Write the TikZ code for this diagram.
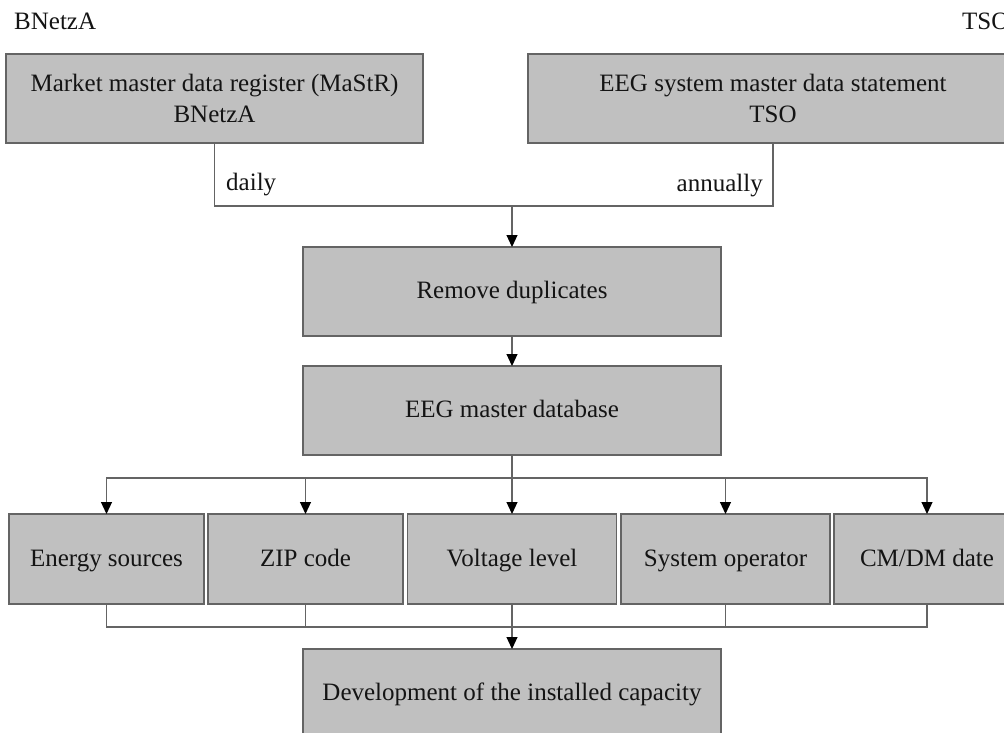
\documentclass[tikz,border=0pt]{standalone}
\usepackage{fontspec}
\setmainfont{Liberation Serif}
\usetikzlibrary{arrows.meta}

\definecolor{boxfill}{RGB}{192,192,192}
\definecolor{edge}{RGB}{100,100,100}
\definecolor{ink}{RGB}{20,20,20}

\tikzset{
  block/.style={draw=edge, fill=boxfill, line width=1.2pt, rectangle,
    inner sep=0pt, outer sep=0pt, align=center, text=ink,
    font=\fontsize{25}{31}\selectfont},
  oneline/.style={block, text height=18pt, text depth=4pt},
  wire/.style={draw=edge, line width=1.2pt},
  flow/.style={wire, -{Triangle[width=11pt,length=12pt,color=black,fill=black]}},
  note/.style={inner sep=0pt, text=ink, font=\fontsize{25}{30}\selectfont}
}

\begin{document}
\begin{tikzpicture}[x=1pt, y=-1pt]
  \useasboundingbox (0,0) rectangle (1004,733);

  % corner captions
  \node[note, anchor=base west] (capL) at (14,30) {BNetzA};
  \node[note, anchor=base west] (capR) at (962,30) {TSO};

  % sources
  \node[block, minimum width=417pt, minimum height=89pt] (mastr) at (214.5,98.5)
    {Market master data register (MaStR)\\BNetzA};
  \node[block, minimum width=490pt, minimum height=89pt] (eeg) at (773,98.5)
    {EEG system master data statement\\TSO};

  % processing chain
  \node[oneline, minimum width=418pt, minimum height=89pt] (dedup) at (512,291.5)
    {Remove duplicates};
  \node[oneline, minimum width=418pt, minimum height=89pt] (master) at (512,410.5)
    {EEG master database};

  % evaluation dimensions
  \node[oneline, minimum width=195pt, minimum height=90pt] (src)  at (106.5,559) {Energy sources};
  \node[oneline, minimum width=195pt, minimum height=90pt] (zip)  at (305.5,559) {ZIP code};
  \node[oneline, minimum width=209pt, minimum height=90pt] (volt) at (512,559)   {Voltage level};
  \node[oneline, minimum width=209pt, minimum height=90pt] (op)   at (725.5,559) {System operator};
  \node[oneline, minimum width=186pt, minimum height=90pt] (date) at (927,559)   {CM/DM date};

  % result
  \node[oneline, minimum width=418pt, minimum height=89pt] (dev) at (512,693.5)
    {Development of the installed capacity};

  % junction points
  \coordinate (merge)   at (512,206);
  \coordinate (split)   at (512,478);
  \coordinate (collect) at (512,627);

  % sources into the chain
  \draw[wire] (mastr.south) |- (merge);
  \draw[wire] (eeg.south) |- (merge);
  \node[note, anchor=base west] (daily) at (226,190) {daily};
  \node[note, anchor=base east] (annual) at (763,191) {annually};
  \draw[flow] (merge) -- (dedup.north);
  \draw[flow] (dedup.south) -- (master.north);

  % fan-out to dimensions
  \draw[wire] (master.south) -- (split);
  \draw[flow] (split) -| (src.north);
  \draw[flow] (split) -| (zip.north);
  \draw[flow] (split) -- (volt.north);
  \draw[flow] (split) -| (op.north);
  \draw[flow] (split) -| (date.north);

  % fan-in to result
  \draw[wire] (src.south) |- (collect);
  \draw[wire] (zip.south) |- (collect);
  \draw[wire] (op.south) |- (collect);
  \draw[wire] (date.south) |- (collect);
  \draw[flow] (volt.south) -- (dev.north);
\end{tikzpicture}
\end{document}
